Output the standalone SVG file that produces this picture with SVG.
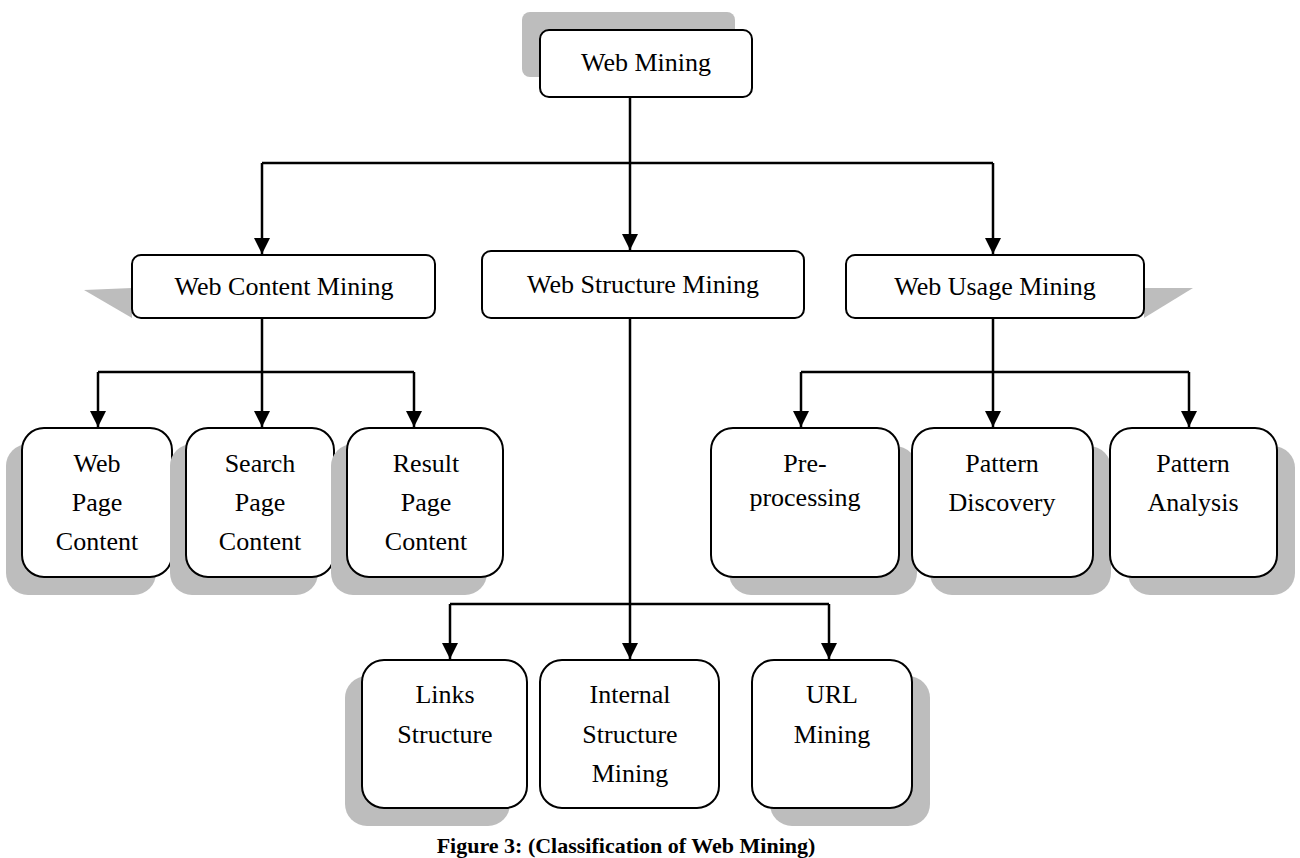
<svg xmlns="http://www.w3.org/2000/svg" width="1300" height="858" viewBox="0 0 1300 858">
<style>
.box{fill:#fff;stroke:#000;stroke-width:2}
.sh{fill:#bdbdbd}
text{font-family:"Liberation Serif",serif;font-size:26px;fill:#000;text-anchor:middle}
.c{fill:none;stroke:#000;stroke-width:2.5}
</style>
<defs>
<marker id="d" viewBox="0 0 16 16" refX="8" refY="16" markerWidth="16" markerHeight="16" markerUnits="userSpaceOnUse" orient="0"><path d="M0,0 L16,0 L8,16 Z" fill="#000"/></marker></defs>
<g id="root"><rect class="sh" x="522" y="12" width="213" height="65" rx="8"/><rect class="box" x="540" y="30" width="212" height="67" rx="9"/><text x="646" y="71">Web Mining</text></g>
<g id="content"><polygon class="sh" points="84,290 132,288 132,318"/><rect class="box" x="132" y="255" width="303" height="63" rx="9"/><text x="284" y="295">Web Content Mining</text></g>
<g id="structure"><rect class="box" x="482" y="251" width="322" height="67" rx="9"/><text x="643" y="293">Web Structure Mining</text></g>
<g id="usage"><polygon class="sh" points="1144,288 1193,288 1144,318"/><rect class="box" x="846" y="255" width="298" height="63" rx="9"/><text x="995" y="295">Web Usage Mining</text></g>
<g id="webpage"><rect class="sh" x="6" y="444" width="150" height="151" rx="22"/><rect class="box" x="22" y="428" width="150" height="149" rx="22"/><text x="97" y="472">Web</text><text x="97" y="511">Page</text><text x="97" y="550">Content</text></g>
<g id="search"><rect class="sh" x="170" y="444" width="148" height="151" rx="22"/><rect class="box" x="186" y="428" width="148" height="149" rx="22"/><text x="260" y="472">Search</text><text x="260" y="511">Page</text><text x="260" y="550">Content</text></g>
<g id="result"><rect class="sh" x="331" y="444" width="156" height="151" rx="22"/><rect class="box" x="347" y="428" width="156" height="149" rx="22"/><text x="426" y="472">Result</text><text x="426" y="511">Page</text><text x="426" y="550">Content</text></g>
<g id="pre"><rect class="sh" x="729" y="446" width="188" height="149" rx="22"/><rect class="box" x="711" y="428" width="188" height="149" rx="22"/><text x="805" y="472">Pre-</text><text x="805" y="506">processing</text></g>
<g id="disc"><rect class="sh" x="930" y="446" width="181" height="149" rx="22"/><rect class="box" x="912" y="428" width="181" height="149" rx="22"/><text x="1002" y="472">Pattern</text><text x="1002" y="511">Discovery</text></g>
<g id="anal"><rect class="sh" x="1128" y="446" width="167" height="149" rx="22"/><rect class="box" x="1110" y="428" width="167" height="149" rx="22"/><text x="1193" y="472">Pattern</text><text x="1193" y="511">Analysis</text></g>
<g id="links"><rect class="sh" x="345" y="676" width="165" height="150" rx="22"/><rect class="box" x="362" y="660" width="165" height="148" rx="22"/><text x="445" y="703">Links</text><text x="445" y="743">Structure</text></g>
<g id="internal"><rect class="box" x="540" y="660" width="179" height="148" rx="22"/><text x="630" y="703">Internal</text><text x="630" y="743">Structure</text><text x="630" y="782">Mining</text></g>
<g id="url"><rect class="sh" x="770" y="676" width="160" height="150" rx="22"/><rect class="box" x="752" y="660" width="160" height="148" rx="22"/><text x="832" y="703">URL</text><text x="832" y="743">Mining</text></g>
<g id="connectors" class="c">
<path d="M630,97 V250" marker-end="url(#d)"/>
<path d="M262,163 H993"/>
<path d="M262,163 V254" marker-end="url(#d)"/>
<path d="M993,163 V254" marker-end="url(#d)"/>
<path d="M262,318 V427" marker-end="url(#d)"/>
<path d="M98,372 H414"/>
<path d="M98,372 V427" marker-end="url(#d)"/>
<path d="M414,372 V427" marker-end="url(#d)"/>
<path d="M630,318 V659" marker-end="url(#d)"/>
<path d="M450,604 H829"/>
<path d="M450,604 V659" marker-end="url(#d)"/>
<path d="M829,604 V659" marker-end="url(#d)"/>
<path d="M993,318 V427" marker-end="url(#d)"/>
<path d="M801,372 H1189"/>
<path d="M801,372 V427" marker-end="url(#d)"/>
<path d="M1189,372 V427" marker-end="url(#d)"/>
</g>
<text x="626" y="853" style="font-weight:bold;font-size:22px">Figure 3: (Classification  of Web Mining)</text>
</svg>
